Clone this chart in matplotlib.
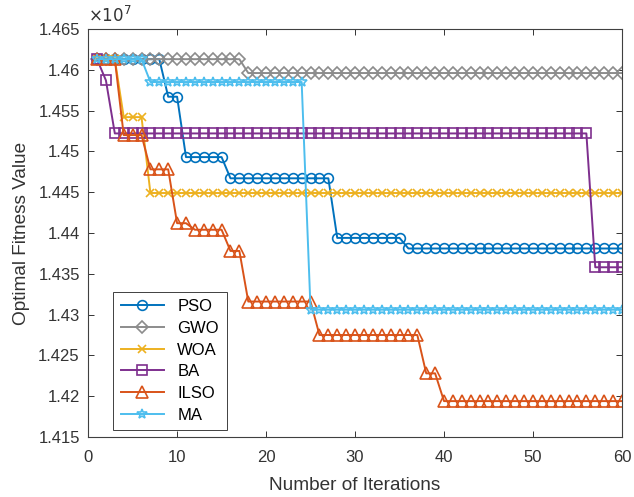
import numpy as np
import matplotlib
matplotlib.use('Agg')
import matplotlib.pyplot as plt

plt.rcParams['font.family'] = ['Liberation Sans', 'DejaVu Sans']

#---------DATA (fitness values, units of 1e7)------------
iterations = list(range(1, 61))

pso = [1.4613, 1.4613, 1.4613, 1.4613, 1.4613, 1.4613, 1.4613, 1.4613, 1.4567, 1.4567,
       1.4493, 1.4493, 1.4493, 1.4493, 1.4493, 1.4467, 1.4467, 1.4467, 1.4467, 1.4467,
       1.4467, 1.4467, 1.4467, 1.4467, 1.4467, 1.4467, 1.4467, 1.4394, 1.4394, 1.4394,
       1.4394, 1.4394, 1.4394, 1.4394, 1.4394, 1.4381, 1.4381, 1.4381, 1.4381, 1.4381,
       1.4381, 1.4381, 1.4381, 1.4381, 1.4381, 1.4381, 1.4381, 1.4381, 1.4381, 1.4381,
       1.4381, 1.4381, 1.4381, 1.4381, 1.4381, 1.4381, 1.4381, 1.4381, 1.4381, 1.4381]

gwo = [1.4613, 1.4613, 1.4613, 1.4613, 1.4613, 1.4613, 1.4613, 1.4613, 1.4613, 1.4613,
       1.4613, 1.4613, 1.4613, 1.4613, 1.4613, 1.4613, 1.4613, 1.4596, 1.4596, 1.4596,
       1.4596, 1.4596, 1.4596, 1.4596, 1.4596, 1.4596, 1.4596, 1.4596, 1.4596, 1.4596,
       1.4596, 1.4596, 1.4596, 1.4596, 1.4596, 1.4596, 1.4596, 1.4596, 1.4596, 1.4596,
       1.4596, 1.4596, 1.4596, 1.4596, 1.4596, 1.4596, 1.4596, 1.4596, 1.4596, 1.4596,
       1.4596, 1.4596, 1.4596, 1.4596, 1.4596, 1.4596, 1.4596, 1.4596, 1.4596, 1.4596]

woa = [1.4613, 1.4613, 1.4613, 1.4542, 1.4542, 1.4542, 1.4449, 1.4449, 1.4449, 1.4449,
       1.4449, 1.4449, 1.4449, 1.4449, 1.4449, 1.4449, 1.4449, 1.4449, 1.4449, 1.4449,
       1.4449, 1.4449, 1.4449, 1.4449, 1.4449, 1.4449, 1.4449, 1.4449, 1.4449, 1.4449,
       1.4449, 1.4449, 1.4449, 1.4449, 1.4449, 1.4449, 1.4449, 1.4449, 1.4449, 1.4449,
       1.4449, 1.4449, 1.4449, 1.4449, 1.4449, 1.4449, 1.4449, 1.4449, 1.4449, 1.4449,
       1.4449, 1.4449, 1.4449, 1.4449, 1.4449, 1.4449, 1.4449, 1.4449, 1.4449, 1.4449]

ba = [1.4613, 1.4587, 1.4522, 1.4522, 1.4522, 1.4522, 1.4522, 1.4522, 1.4522, 1.4522,
      1.4522, 1.4522, 1.4522, 1.4522, 1.4522, 1.4522, 1.4522, 1.4522, 1.4522, 1.4522,
      1.4522, 1.4522, 1.4522, 1.4522, 1.4522, 1.4522, 1.4522, 1.4522, 1.4522, 1.4522,
      1.4522, 1.4522, 1.4522, 1.4522, 1.4522, 1.4522, 1.4522, 1.4522, 1.4522, 1.4522,
      1.4522, 1.4522, 1.4522, 1.4522, 1.4522, 1.4522, 1.4522, 1.4522, 1.4522, 1.4522,
      1.4522, 1.4522, 1.4522, 1.4522, 1.4522, 1.4522, 1.4358, 1.4358, 1.4358, 1.4358]

ilso = [1.4613, 1.4613, 1.4613, 1.4520, 1.4520, 1.4520, 1.4478, 1.4478, 1.4478, 1.4412,
        1.4412, 1.4404, 1.4404, 1.4404, 1.4404, 1.4378, 1.4378, 1.4316, 1.4316, 1.4316,
        1.4316, 1.4316, 1.4316, 1.4316, 1.4316, 1.4275, 1.4275, 1.4275, 1.4275, 1.4275,
        1.4275, 1.4275, 1.4275, 1.4275, 1.4275, 1.4275, 1.4275, 1.4228, 1.4228, 1.4194,
        1.4194, 1.4194, 1.4194, 1.4194, 1.4194, 1.4194, 1.4194, 1.4194, 1.4194, 1.4194,
        1.4194, 1.4194, 1.4194, 1.4194, 1.4194, 1.4194, 1.4194, 1.4194, 1.4194, 1.4194]

ma = [1.4613, 1.4613, 1.4613, 1.4613, 1.4613, 1.4613, 1.4585, 1.4585, 1.4585, 1.4585,
      1.4585, 1.4585, 1.4585, 1.4585, 1.4585, 1.4585, 1.4585, 1.4585, 1.4585, 1.4585,
      1.4585, 1.4585, 1.4585, 1.4585, 1.4306, 1.4306, 1.4306, 1.4306, 1.4306, 1.4306,
      1.4306, 1.4306, 1.4306, 1.4306, 1.4306, 1.4306, 1.4306, 1.4306, 1.4306, 1.4306,
      1.4306, 1.4306, 1.4306, 1.4306, 1.4306, 1.4306, 1.4306, 1.4306, 1.4306, 1.4306,
      1.4306, 1.4306, 1.4306, 1.4306, 1.4306, 1.4306, 1.4306, 1.4306, 1.4306, 1.4306]

names = ['PSO', 'GWO', 'WOA', 'BA', 'ILSO', 'MA']
yticks = [1.415, 1.42, 1.425, 1.43, 1.435, 1.44, 1.445, 1.45, 1.455, 1.46, 1.465]
xticks = [0, 10, 20, 30, 40, 50, 60]

#------------PLOTTING------------
fig = plt.figure(figsize=(6.34, 4.97), dpi=100)
ax = fig.add_axes([0.139, 0.1207, 0.842, 0.821])

txtcol = '#333333'
styles = [
    (pso, '#0072BD', 'o', 7),
    (gwo, '#8C8C8C', 'D', 6),
    (woa, '#EDB120', 'x', 6),
    (ba, '#7E2F8E', 's', 6.5),
    (ilso, '#D95319', '^', 8.5),
    (ma, '#4DBEEE', '*', 7.5),
]
for (vals, col, mk, ms), nm in zip(styles, names):
    ax.plot(iterations, vals, color=col, marker=mk, markersize=ms,
            markerfacecolor='none', markeredgewidth=1.2, linewidth=1.4, label=nm)

ax.set_xlim(0, 60)
ax.set_ylim(1.415, 1.465)
ax.set_xticks(xticks)
ax.set_yticks(yticks)
ax.set_yticklabels(['%g' % t for t in yticks])
ax.tick_params(direction='in', top=True, right=True, length=4, width=0.7,
               labelsize=12, colors=txtcol)
ax.tick_params(axis='x', pad=9)
ax.tick_params(axis='y', pad=6)
for s in ax.spines.values():
    s.set_color('#404040')
    s.set_linewidth(0.8)

ax.set_xlabel('Number of Iterations', fontsize=13.7, color=txtcol, labelpad=9)
ax.set_ylabel('Optimal Fitness Value', fontsize=13.7, color=txtcol, labelpad=6)
ax.text(0.0, 1.01, r'$\times 10^7$', transform=ax.transAxes, fontsize=12,
        color=txtcol, va='bottom', ha='left')

leg = ax.legend(loc='lower left', bbox_to_anchor=(0.047, 0.017), borderaxespad=0,
                fancybox=False, framealpha=1, edgecolor='#404040', fontsize=12,
                handlelength=2.6, labelspacing=0.4, borderpad=0.45)
leg.get_frame().set_linewidth(0.7)

fig.savefig('out.png', dpi=100)
